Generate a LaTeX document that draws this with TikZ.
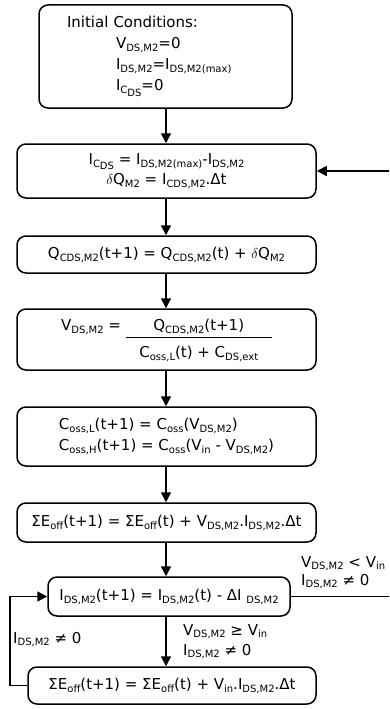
\documentclass[tikz,border=0pt]{standalone}
\usepackage{fontspec}
\setmainfont{DejaVu Sans}
\usetikzlibrary{arrows.meta}
% subscripts and second-level subscripts
\newcommand\sbs[1]{\raisebox{-0.35ex}{\fontsize{10}{10}\selectfont #1}}
\newcommand\ssbs[1]{\raisebox{-0.45ex}{\fontsize{10}{10}\selectfont #1}}
\tikzset{
  flowbox/.style={draw, line width=1.5pt, rounded corners=9pt, inner sep=0pt,
    minimum width=299pt, font=\fontsize{15}{21}\selectfont, align=center},
  flow/.style={line width=1.5pt, -{Triangle[length=10pt,width=10pt]}},
  cond/.style={font=\fontsize{15}{19}\selectfont, align=left, inner sep=0pt, anchor=base west},
}
\begin{document}
\begin{tikzpicture}[x=1pt, y=-1pt]
\clip (0,0) rectangle (389,709);

% initial conditions
\node[flowbox, minimum width=253pt, minimum height=103pt, text width=197pt,
      inner xsep=28pt, align=left] (init) at (165.5,56.5)
  {Initial Conditions:\\
   \hspace*{49pt}V\sbs{DS,M2}=0\\
   \hspace*{49pt}I\sbs{DS,M2}=I\sbs{DS,M2(max)}\\
   \hspace*{49pt}I\sbs{C\ssbs{DS}}=0};

% capacitor current and charge step
\node[flowbox, minimum height=54pt] (charge) at (166.5,171)
  {I\sbs{C\ssbs{DS}} = I\sbs{DS,M2(max)}-I\sbs{DS,M2}\\[-1pt]
   $\delta$Q\sbs{M2} = I\sbs{CDS,M2}.Δt};

% accumulated charge
\node[flowbox, minimum height=37pt] (qsum) at (166.5,254.5)
  {Q\sbs{CDS,M2}(t+1) = Q\sbs{CDS,M2}(t) + $\delta$Q\sbs{M2}};

% drain-source voltage
\node[flowbox, minimum height=61pt] (vds) at (166.5,339.5)
  {V\sbs{DS,M2} = \begin{tabular}[t]{@{}c@{}}
     Q\sbs{CDS,M2}(t+1)\\[-13pt]
     \rule{146pt}{1.2pt}\\[-2pt]
     C\sbs{oss,L}(t) + C\sbs{DS,ext}
   \end{tabular}};

% output capacitances
\node[flowbox, minimum height=59pt, align=left] (coss) at (166.5,436.5)
  {C\sbs{oss,L}(t+1) = C\sbs{oss}(V\sbs{DS,M2})\\
   C\sbs{oss,H}(t+1) = C\sbs{oss}(V\sbs{in} - V\sbs{DS,M2})};

% energy during voltage rise
\node[flowbox, minimum height=39pt] (eon) at (166.5,522.5)
  {ΣE\sbs{off}(t+1) = ΣE\sbs{off}(t) + V\sbs{DS,M2}.I\sbs{DS,M2}.Δt};

% current fall
\node[flowbox, minimum width=242pt, minimum height=39pt] (ifall) at (169,596.5)
  {I\sbs{DS,M2}(t+1) = I\sbs{DS,M2}(t) - ΔI \sbs{DS,M2}};

% energy during current fall
\node[flowbox, minimum width=288pt, minimum height=37pt] (efall) at (172,685.5)
  {ΣE\sbs{off}(t+1) = ΣE\sbs{off}(t) + V\sbs{in}.I\sbs{DS,M2}.Δt};

% main chain
\draw[flow] (init.south -| 166,0) -- (charge.north -| 166,0);
\draw[flow] (charge.south -| 166,0) -- (qsum.north -| 166,0);
\draw[flow] (qsum.south -| 166,0) -- (vds.north -| 166,0);
\draw[flow] (vds.south -| 166,0) -- (coss.north -| 166,0);
\draw[flow] (coss.south -| 166,0) -- (eon.north -| 166,0);
\draw[flow] (eon.south -| 166,0) -- (ifall.north -| 166,0);
\draw[flow] (ifall.south -| 166,0) -- (efall.north -| 166,0);

% return paths
\coordinate (rback) at (396,596.5);
\coordinate (lback) at (10,685.5);
\draw[flow] (ifall.east) -- (rback) |- (charge.east);
\draw[flow] (efall.west) -- (lback) |- (ifall.west);

% branch conditions
\node[cond] (c1) at (301,567) {V\sbs{DS,M2} < V\sbs{in}};
\node[cond] (c2) at (301,585) {I\sbs{DS,M2} ≠ 0};
\node[cond] (c3) at (183,635) {V\sbs{DS,M2} ≥ V\sbs{in}};
\node[cond] (c4) at (183,655) {I\sbs{DS,M2} ≠ 0};
\node[cond] (c5) at (13,643) {I\sbs{DS,M2} ≠ 0};
\end{tikzpicture}
\end{document}
